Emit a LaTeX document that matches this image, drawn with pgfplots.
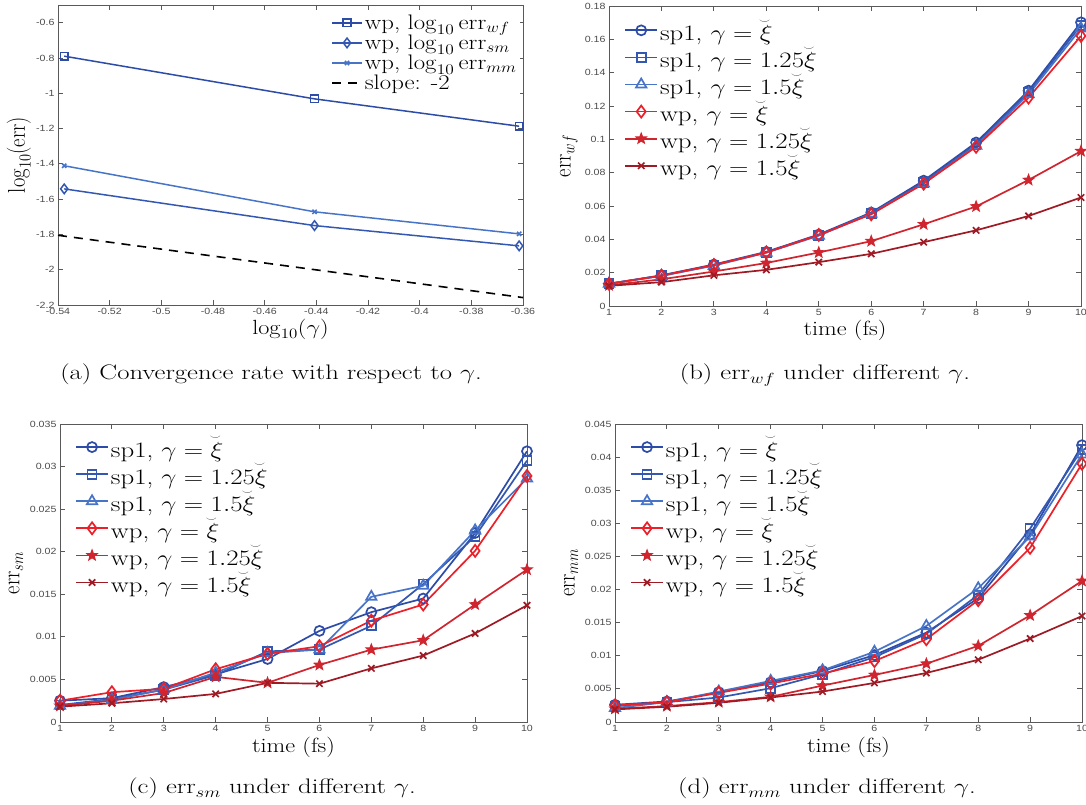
\RequirePackage{fix-cm}
\documentclass[border=0pt]{standalone}
\usepackage{pgfplots}
\pgfplotsset{compat=1.18}
\usepackage{pgfplotstable}
\usepackage[no-math]{fontspec}
\usepackage{graphicx}
\newfontfamily\tickfont[FakeStretch=1.18]{Liberation Sans}
\newcommand{\hs}[1]{\scalebox{1.18}[1]{#1}}
\newcommand{\hl}[1]{\scalebox{1.22}[1]{#1}}
\newcommand{\hc}[1]{\scalebox{1.27}[1]{#1}}
\newcommand{\vs}[1]{\scalebox{1}[1.18]{#1}}
\newcommand{\lblfont}{\fontsize{20.5}{23}\selectfont}
\newcommand{\legfont}{\fontsize{22}{24}\selectfont}
\newcommand{\bxi}{\mathord{\mathop{\hbox{$\xi$}}\limits^{\hbox{\kern-0.12em\scalebox{0.42}{$\smile$}}}}}
\newcommand{\capfont}{\fontsize{21}{24}\selectfont}

\definecolor{cA}{RGB}{44,76,168}
\definecolor{cB}{RGB}{52,88,178}
\definecolor{cC}{RGB}{72,116,200}
\definecolor{rA}{RGB}{236,32,40}
\definecolor{rB}{RGB}{208,36,46}
\definecolor{rC}{RGB}{158,26,36}

\pgfdeclareplotmark{pentagram}{%
  \pgfmathsetlengthmacro\pgfpentri{0.42*\pgfplotmarksize}%
  \pgfpathmoveto{\pgfqpointpolar{90}{\pgfplotmarksize}}%
  \pgfpathlineto{\pgfqpointpolar{126}{\pgfpentri}}%
  \pgfpathlineto{\pgfqpointpolar{162}{\pgfplotmarksize}}%
  \pgfpathlineto{\pgfqpointpolar{198}{\pgfpentri}}%
  \pgfpathlineto{\pgfqpointpolar{234}{\pgfplotmarksize}}%
  \pgfpathlineto{\pgfqpointpolar{270}{\pgfpentri}}%
  \pgfpathlineto{\pgfqpointpolar{306}{\pgfplotmarksize}}%
  \pgfpathlineto{\pgfqpointpolar{342}{\pgfpentri}}%
  \pgfpathlineto{\pgfqpointpolar{18}{\pgfplotmarksize}}%
  \pgfpathlineto{\pgfqpointpolar{54}{\pgfpentri}}%
  \pgfpathclose
  \pgfusepathqfillstroke}

\pgfplotstableread{
x wf sm mm
-0.5376 -0.790 -1.542 -1.411
-0.4407 -1.032 -1.750 -1.672
-0.3615 -1.187 -1.865 -1.797
}\tabA
\pgfplotstableread{
x y
-0.54 -1.805
-0.36 -2.158
}\tabSlope
\pgfplotstableread{
t c1 c2 c3 r1 r2 r3
1 0.0133 0.0134 0.0134 0.0133 0.0124 0.0121
2 0.0184 0.0182 0.0180 0.0182 0.0160 0.0143
3 0.0249 0.0246 0.0242 0.0246 0.0207 0.0184
4 0.0325 0.0322 0.0320 0.0321 0.0258 0.0217
5 0.0429 0.0425 0.0422 0.0426 0.0321 0.0263
6 0.0561 0.0556 0.0554 0.0550 0.0389 0.0313
7 0.0752 0.0742 0.0735 0.0734 0.0490 0.0383
8 0.0981 0.0970 0.0962 0.0955 0.0597 0.0454
9 0.1292 0.1281 0.1270 0.1250 0.0756 0.0540
10 0.1702 0.1685 0.1665 0.1620 0.0929 0.0651
}\tabB
\pgfplotstableread{
t c1 c2 c3 r1 r2 r3
1 0.0025 0.0020 0.0019 0.0025 0.0019 0.0018
2 0.0028 0.0027 0.0026 0.0035 0.0025 0.0022
3 0.0041 0.0038 0.0038 0.0039 0.0034 0.0027
4 0.0056 0.0055 0.0058 0.0062 0.0053 0.0033
5 0.0074 0.0083 0.0081 0.0080 0.0046 0.0046
6 0.0107 0.0085 0.0085 0.0089 0.0067 0.0045
7 0.0129 0.0113 0.0147 0.0119 0.0085 0.0063
8 0.0145 0.0162 0.0160 0.0138 0.0096 0.0078
9 0.0222 0.0218 0.0225 0.0201 0.0138 0.0104
10 0.0318 0.0307 0.0286 0.0289 0.0179 0.0137
}\tabC
\pgfplotstableread{
t c1 c2 c3 r1 r2 r3
1 0.0026 0.0024 0.0021 0.0025 0.0020 0.0019
2 0.0031 0.0030 0.0030 0.0030 0.0024 0.0023
3 0.0045 0.0037 0.0046 0.0044 0.0030 0.0029
4 0.0060 0.0051 0.0062 0.0058 0.0038 0.0037
5 0.0077 0.0072 0.0078 0.0073 0.0055 0.0046
6 0.0101 0.0098 0.0106 0.0092 0.0071 0.0059
7 0.0135 0.0133 0.0145 0.0125 0.0088 0.0074
8 0.0187 0.0192 0.0202 0.0184 0.0115 0.0094
9 0.0283 0.0292 0.0280 0.0263 0.0161 0.0126
10 0.0418 0.0412 0.0404 0.0390 0.0213 0.0160
}\tabD

\pgfplotsset{
  myax/.style={
    scale only axis,
    anchor=south west,
    scaled ticks=false,
    axis line style={black!65, line width=0.8pt},
    tick style={black!65, line width=0.8pt},
    major tick length=5pt,
    tick align=inside,
    ticklabel style={font=\tickfont\fontsize{9}{10}\selectfont, text=black!70},
    /pgf/number format/assume math mode=true,
    legend cell align=left,
    legend style={draw=none, fill=white, inner sep=1pt, anchor=north west,
      font=\legfont, row sep=0pt},
    legend image code/.code={\draw[mark repeat=2,mark phase=2,##1] plot coordinates {(0pt,0pt) (16pt,0pt) (32pt,0pt)};},
    every axis plot/.append style={line width=1.7pt, mark options={solid}},
  },
  timeax/.style={
    myax, xmin=1, xmax=10, xtick={1,...,10}, ymin=0,
    xlabel={\hs{time (fs)}},
    every axis x label/.style={at={(axis description cs:0.5,-0.085)}, anchor=center, font=\lblfont},
    every axis y label/.style={at={(axis description cs:-0.094,0.5)}, rotate=90, anchor=center, font=\lblfont},
    legend style={at={(0.03,0.972)}},
  },
  sA/.style={cA, mark=o, mark size=5pt},
  sB/.style={cB, mark=square, mark size=4.5pt},
  sC/.style={cC, mark=triangle, mark size=6pt},
  sD/.style={rA, mark=diamond, mark size=6pt},
  sE/.style={rB, mark=pentagram, mark size=5.5pt, mark options={fill=rB, line width=1pt}},
  sF/.style={rC, mark=x, mark size=4.5pt},
}

\begin{document}
\begin{tikzpicture}
\useasboundingbox (0pt,0pt) rectangle (1086pt,805pt);

% (a)
\begin{axis}[myax, at={(58pt,500pt)}, width=465pt, height=300pt,
  xmin=-0.54, xmax=-0.36, ymin=-2.2, ymax=-0.5,
  xtick={-0.54,-0.52,-0.5,-0.48,-0.46,-0.44,-0.42,-0.4,-0.38,-0.36},
  xticklabels={-0.54,-0.52,-0.5,-0.48,-0.46,-0.44,-0.42,-0.4,-0.38,-0.36},
  ytick={-2.2,-2,-1.8,-1.6,-1.4,-1.2,-1,-0.8,-0.6},
  yticklabels={-2.2,-2,-1.8,-1.6,-1.4,-1.2,-1,-0.8,-0.6},
  xlabel={\hs{$\log_{10}(\gamma)$}},
  ylabel={\vs{$\log_{10}(\mathrm{err})$}},
  every axis x label/.style={at={(axis description cs:0.5,-0.08)}, anchor=center, font=\lblfont},
  every axis y label/.style={at={(axis description cs:-0.084,0.5)}, rotate=90, anchor=center, font=\lblfont},
  legend style={at={(0.585,0.978)}, font=\fontsize{21}{23}\selectfont},
  legend image code/.code={\draw[mark repeat=2,mark phase=2,#1] plot coordinates {(0pt,0pt) (15pt,0pt) (30pt,0pt)};},
  every axis plot/.append style={line width=1.5pt},
]
\addplot[cA, mark=square, mark size=3.8pt] table[x=x,y=wf]{\tabA};
\addlegendentry{\hs{wp, $\log_{10}\mathrm{err}_{wf}$}}
\addplot[cB, mark=diamond, mark size=4.8pt] table[x=x,y=sm]{\tabA};
\addlegendentry{\hs{wp, $\log_{10}\mathrm{err}_{sm}$}}
\addplot[cC, mark=x, mark size=3pt] table[x=x,y=mm]{\tabA};
\addlegendentry{\hs{wp, $\log_{10}\mathrm{err}_{mm}$}}
\addplot[black, dash pattern=on 9pt off 7pt, line width=1.6pt] table[x=x,y=y]{\tabSlope};
\addlegendentry{\hs{slope: -2}}
\end{axis}

% (b)
\begin{axis}[timeax, at={(609pt,499pt)}, width=472pt, height=300pt,
  ymax=0.18,
  ytick={0,0.02,0.04,0.06,0.08,0.1,0.12,0.14,0.16,0.18},
  yticklabels={0,0.02,0.04,0.06,0.08,0.1,0.12,0.14,0.16,0.18},
  ylabel={\vs{$\mathrm{err}_{wf}$}},
  every axis y label/.style={at={(axis description cs:-0.085,0.5)}, rotate=90, anchor=center, font=\lblfont},
  every axis x label/.style={at={(axis description cs:0.5,-0.08)}, anchor=center, font=\lblfont},
  legend style={at={(0.03,0.968)}},
]
\addplot[sA] table[x=t,y=c1]{\tabB}; \addlegendentry{\hl{sp1, $\gamma=\bxi$}}
\addplot[sB] table[x=t,y=c2]{\tabB}; \addlegendentry{\hl{sp1, $\gamma=1.25\bxi$}}
\addplot[sC] table[x=t,y=c3]{\tabB}; \addlegendentry{\hl{sp1, $\gamma=1.5\bxi$}}
\addplot[sD] table[x=t,y=r1]{\tabB}; \addlegendentry{\hl{wp, $\gamma=\bxi$}}
\addplot[sE] table[x=t,y=r2]{\tabB}; \addlegendentry{\hl{wp, $\gamma=1.25\bxi$}}
\addplot[sF] table[x=t,y=r3]{\tabB}; \addlegendentry{\hl{wp, $\gamma=1.5\bxi$}}
\end{axis}

% (c)
\begin{axis}[timeax, at={(60pt,83pt)}, width=467pt, height=298pt,
  ymax=0.035,
  ytick={0,0.005,0.01,0.015,0.02,0.025,0.03,0.035},
  yticklabels={0,0.005,0.01,0.015,0.02,0.025,0.03,0.035},
  ylabel={\vs{$\mathrm{err}_{sm}$}},
]
\addplot[sA] table[x=t,y=c1]{\tabC}; \addlegendentry{\hl{sp1, $\gamma=\bxi$}}
\addplot[sB] table[x=t,y=c2]{\tabC}; \addlegendentry{\hl{sp1, $\gamma=1.25\bxi$}}
\addplot[sC] table[x=t,y=c3]{\tabC}; \addlegendentry{\hl{sp1, $\gamma=1.5\bxi$}}
\addplot[sD] table[x=t,y=r1]{\tabC}; \addlegendentry{\hl{wp, $\gamma=\bxi$}}
\addplot[sE] table[x=t,y=r2]{\tabC}; \addlegendentry{\hl{wp, $\gamma=1.25\bxi$}}
\addplot[sF] table[x=t,y=r3]{\tabC}; \addlegendentry{\hl{wp, $\gamma=1.5\bxi$}}
\end{axis}

% (d)
\begin{axis}[timeax, at={(615pt,83pt)}, width=467pt, height=298pt,
  ymax=0.045,
  ytick={0,0.005,0.01,0.015,0.02,0.025,0.03,0.035,0.04,0.045},
  yticklabels={0,0.005,0.01,0.015,0.02,0.025,0.03,0.035,0.04,0.045},
  ylabel={\vs{$\mathrm{err}_{mm}$}},
]
\addplot[sA] table[x=t,y=c1]{\tabD}; \addlegendentry{\hl{sp1, $\gamma=\bxi$}}
\addplot[sB] table[x=t,y=c2]{\tabD}; \addlegendentry{\hl{sp1, $\gamma=1.25\bxi$}}
\addplot[sC] table[x=t,y=c3]{\tabD}; \addlegendentry{\hl{sp1, $\gamma=1.5\bxi$}}
\addplot[sD] table[x=t,y=r1]{\tabD}; \addlegendentry{\hl{wp, $\gamma=\bxi$}}
\addplot[sE] table[x=t,y=r2]{\tabD}; \addlegendentry{\hl{wp, $\gamma=1.25\bxi$}}
\addplot[sF] table[x=t,y=r3]{\tabD}; \addlegendentry{\hl{wp, $\gamma=1.5\bxi$}}
\end{axis}

% captions
\node[font=\capfont, anchor=base] at (271pt,425pt) {\hc{(a) Convergence rate with respect to $\gamma$.}};
\node[font=\capfont, anchor=base] at (825pt,425pt) {\hc{(b) err$_{wf}$ under different $\gamma$.}};
\node[font=\capfont, anchor=base] at (272pt,11pt) {\hc{(c) err$_{sm}$ under different $\gamma$.}};
\node[font=\capfont, anchor=base] at (827pt,11pt) {\hc{(d) err$_{mm}$ under different $\gamma$.}};
\end{tikzpicture}
\end{document}
